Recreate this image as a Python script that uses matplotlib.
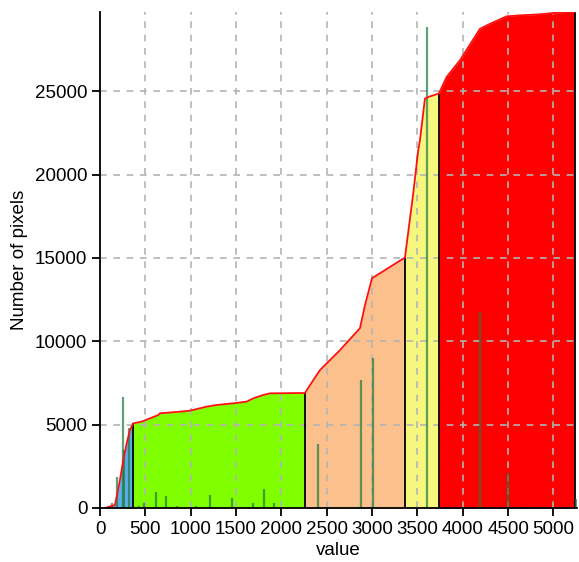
import numpy as np
import matplotlib.pyplot as plt

plt.rcParams['font.family'] = ['Liberation Sans', 'DejaVu Sans']

# cumulative pixel count curve (value, count)
curve_x = [55, 165, 184, 220, 257, 294, 331, 367, 459, 551, 643, 661, 882, 992,
           1176, 1286, 1470, 1617, 1691, 1800, 1874, 2260, 2352, 2425, 2646,
           2867, 2922, 3000, 3142, 3363, 3454, 3509, 3528, 3583, 3620, 3737,
           3822, 3969, 4190, 4300, 4484, 4630, 4851, 4998, 5234]
curve_y = [0, 180, 680, 1680, 2880, 3880, 4680, 5080, 5180, 5380, 5580, 5680,
           5780, 5840, 6080, 6180, 6280, 6380, 6580, 6780, 6880, 6900, 7670,
           8270, 9470, 10790, 12170, 13790, 14270, 15030, 18870, 21460, 22060,
           24560, 24660, 24870, 25860, 26860, 28750, 29050, 29500, 29560,
           29620, 29700, 29760]

# class boundaries and fill colours
class_edges = [55, 367, 2260, 3363, 3737, 5234]
class_colors = ['#5cb0ea', '#7fff00', '#fcc08c', '#f7f780', '#ff0000']

# histogram bars (value, count)
bar_x = [129, 191, 249, 265, 323, 434, 489, 614, 728, 853, 1058, 1213, 1452,
         1683, 1808, 1918, 2407, 2878, 3006, 3602, 4190, 4495, 5248]
bar_y = [320, 1880, 6670, 3480, 4780, 120, 280, 940, 720, 120, 120, 780, 620,
         280, 1120, 280, 3840, 7670, 8990, 28840, 11770, 2080, 540]

fig = plt.figure(figsize=(5.79, 5.62), dpi=100)
ax = fig.add_axes([100 / 579, 54 / 562, 477 / 579, 496 / 562])

cx = np.array(curve_x)
cy = np.array(curve_y)
for i, col in enumerate(class_colors):
    lo, hi = class_edges[i], class_edges[i + 1]
    m = (cx >= lo) & (cx <= hi)
    ax.fill_between(cx[m], 0, cy[m], color=col, linewidth=0, zorder=1)
    # black separator at the right edge of each class
    ax.vlines(hi, 0, cy[cx == hi][0], color='black', linewidth=1.3, zorder=3)

ax.vlines(bar_x, 0, bar_y, color='#1e7a3c', alpha=0.7, linewidth=1.6, zorder=3)
ax.plot(cx, cy, color='#ff1010', linewidth=1.3, zorder=4)

ax.set_xlim(0, 5260)
ax.set_ylim(0, 29760)
ax.set_xticks(np.arange(0, 5001, 500))
ax.set_yticks(np.arange(0, 25001, 5000))
ax.grid(True, color='#b4b4b4', linestyle=(0, (4, 4)), linewidth=1.2, zorder=2.5)
ax.set_axisbelow(False)

for s in ['top', 'right']:
    ax.spines[s].set_visible(False)
for s in ['left', 'bottom']:
    ax.spines[s].set_linewidth(1.3)
    ax.spines[s].set_zorder(6)

ax.tick_params(direction='out', length=6, width=1.3, labelsize=13.5, pad=3)
ax.set_xlabel('value', fontsize=13.5, labelpad=3)
ax.set_ylabel('Number of pixels', fontsize=13.5, labelpad=5)

fig.savefig('out.png', dpi=100)
